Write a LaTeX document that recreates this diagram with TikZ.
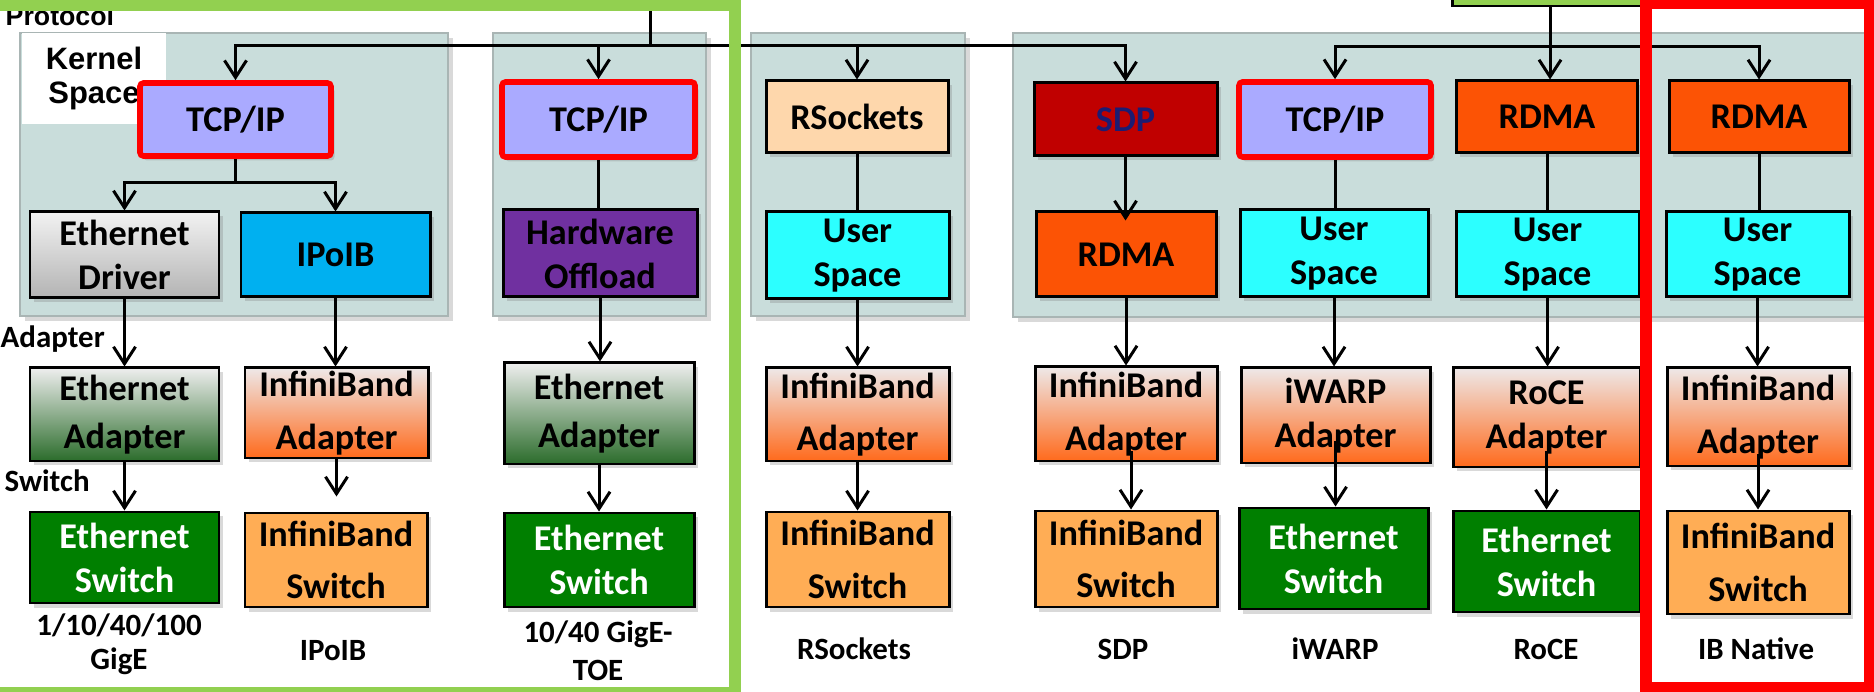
\documentclass[tikz,border=0pt]{standalone}
\usepackage{fontspec}
\setmainfont{Carlito}
\newfontfamily\arialf{Liberation Sans}
\usetikzlibrary{arrows.meta,shadows,calc}
\definecolor{panelc}{HTML}{C9DDDB}
\definecolor{panelb}{HTML}{A9B5B4}
\definecolor{tcpc}{HTML}{AAAAFF}
\definecolor{ipoibc}{HTML}{00B0F0}
\definecolor{hwc}{HTML}{7030A0}
\definecolor{ethsw}{HTML}{007F00}
\definecolor{ibsw}{HTML}{FFAD55}
\definecolor{rsockc}{HTML}{FED7AC}
\definecolor{userc}{HTML}{2CFFFF}
\definecolor{sdpc}{HTML}{C00000}
\definecolor{sdptext}{HTML}{1C1C72}
\definecolor{rdmac}{HTML}{FC5305}
\definecolor{framegreen}{HTML}{92D050}
\definecolor{ethadtop}{HTML}{EEEEEE}
\definecolor{ethadbot}{HTML}{2B6C2B}
\definecolor{ibadtop}{HTML}{EEE8E8}
\definecolor{ibadbot}{HTML}{FF6A1C}
\definecolor{drvtop}{HTML}{F2F2F2}
\definecolor{drvbot}{HTML}{B3B3B3}
\tikzset{
 box/.style={draw=black, line width=0.85pt, inner sep=0pt, align=center,
   font=\bfseries\fontsize{10.3}{12.5}\selectfont,
   drop shadow={shadow xshift=0.035cm, shadow yshift=-0.045cm, opacity=0.3}},
 ibtext/.style={font=\bfseries\fontsize{10.3}{15}\selectfont},
 wh/.style 2 args={minimum width=#1*0.01cm, minimum height=#2*0.01cm},
 redbox/.style={draw=red, line width=1.6pt, rounded corners=1pt},
 ethad/.style={top color=ethadtop, bottom color=ethadbot, font=\bfseries\fontsize{10.3}{13.6}\selectfont},
 ibad/.style={top color=ibadtop, bottom color=ibadbot},
 panel/.style={fill=panelc, draw=panelb, line width=0.7pt,
   drop shadow={shadow xshift=0.05cm, shadow yshift=-0.05cm, opacity=0.3}},
 arr/.style={line width=0.85pt, -{Straight Barb[length=0.17cm, width=0.22cm]}},
 ln/.style={line width=0.85pt},
 lab/.style={font=\bfseries\fontsize{8.8}{10.3}\selectfont, align=center, inner sep=0pt},
}
\begin{document}
\begin{tikzpicture}[x=0.01cm,y=-0.01cm]
\useasboundingbox (0,0) rectangle (1874,692);
\clip (0,0) rectangle (1874,692);
% panels
\draw[panel] (20,33) rectangle (448,316);
\draw[panel] (493,33) rectangle (706,316);
\draw[panel] (751,33) rectangle (965,316);
\draw[panel] (1013,33) rectangle (1866,317);
% labels on the left
\node[font=\arialf\bfseries\fontsize{7.6}{9}\selectfont, anchor=base west, inner sep=0pt] (proto) at (5,26) {Protocol};
\node[fill=white, minimum width=1.44cm, minimum height=0.91cm, inner sep=0pt, align=center,
  font=\arialf\bfseries\fontsize{8.8}{9.6}\selectfont] (kernel) at (94,78.5) {Kernel\\Space};
% column 1 & 2
\node[box, redbox, fill=tcpc, wh={191}{73}] (tcpA) at (235.5,119.5) {TCP/IP};
\node[box, top color=drvtop, bottom color=drvbot, wh={189}{86}] (drv) at (124.5,255) {Ethernet\\Driver};
\node[box, fill=ipoibc, wh={189}{84}] (ipoib) at (335.5,255) {IPoIB};
\node[box, ethad, wh={189}{93}] (eadA) at (124.5,414.5) {Ethernet\\Adapter};
\node[box, fill=ethsw, text=white, wh={189}{91}] (eswA) at (124.5,557.5) {Ethernet\\Switch};
\node[box, ibad, ibtext, wh={183}{90}] (ibadB) at (336.5,413) {InfiniBand\\Adapter};
\node[box, fill=ibsw, ibtext, wh={182}{94}] (ibswB) at (336,560) {InfiniBand\\Switch};
% TOE
\node[box, redbox, fill=tcpc, wh={193}{75}] (tcpC) at (598.5,119.5) {TCP/IP};
\node[box, fill=hwc, wh={194}{87}] (hw) at (600,253.5) {Hardware\\Offload};
\node[box, ethad, wh={190}{101}] (eadC) at (599,413.5) {Ethernet\\Adapter};
\node[box, fill=ethsw, text=white, wh={190}{94}] (eswC) at (599,560) {Ethernet\\Switch};
% RSockets
\node[box, fill=rsockc, wh={182}{72}] (rs) at (857,117) {RSockets};
\node[box, fill=userc, wh={183}{87}] (usD) at (857.5,255.5) {User\\Space};
\node[box, ibad, ibtext, wh={183}{93}] (ibadD) at (857.5,414.5) {InfiniBand\\Adapter};
\node[box, fill=ibsw, ibtext, wh={183}{95}] (ibswD) at (857.5,559.5) {InfiniBand\\Switch};
% SDP
\node[box, fill=sdpc, text=sdptext, wh={183}{73}] (sdp) at (1125.5,119.5) {SDP};
\node[box, fill=rdmac, wh={180}{85}] (rdmaE) at (1126,254.5) {RDMA};
\node[box, ibad, ibtext, wh={182}{94}] (ibadE) at (1126,414) {InfiniBand\\Adapter};
\node[box, fill=ibsw, ibtext, wh={182}{96}] (ibswE) at (1126,559) {InfiniBand\\Switch};
% iWARP
\node[box, redbox, fill=tcpc, wh={192}{75}] (tcpF) at (1335,119.5) {TCP/IP};
\node[box, fill=userc, wh={188}{87}] (usF) at (1334,253.5) {User\\Space};
\node[box, ibad, wh={189}{95}] (iwF) at (1335.5,415.5) {iWARP\\Adapter};
\node[box, fill=ethsw, text=white, wh={189}{101}] (eswF) at (1333.5,558.5) {Ethernet\\Switch};
% RoCE
\node[box, fill=rdmac, wh={181}{72}] (rdmaG) at (1547,117) {RDMA};
\node[box, fill=userc, wh={183}{85}] (usG) at (1547.5,254.5) {User\\Space};
\node[box, ibad, wh={187}{99}] (roG) at (1546.5,417.5) {RoCE\\Adapter};
\node[box, fill=ethsw, text=white, wh={187}{101}] (eswG) at (1546.5,561.5) {Ethernet\\Switch};
% IB native
\node[box, fill=rdmac, wh={180}{72}] (rdmaH) at (1759,117) {RDMA};
\node[box, fill=userc, wh={183}{85}] (usH) at (1757.5,254.5) {User\\Space};
\node[box, ibad, ibtext, wh={182}{98}] (ibadH) at (1758,417) {InfiniBand\\Adapter};
\node[box, fill=ibsw, ibtext, wh={182}{103}] (ibswH) at (1758,562.5) {InfiniBand\\Switch};
% sources
\coordinate (src1) at (650,-5);
\coordinate (busA) at (0,46);
\coordinate (busB) at (0,47);
\coordinate (splitA) at (0,183);
\node[fill=framegreen, draw=black, line width=0.85pt, minimum width=1.94cm, minimum height=0.3cm, inner sep=0pt] (src2) at (1550,-9) {};
% connectors
\foreach \t in {tcpA,tcpC,rs,sdp} \draw[arr] (src1) -- (src1 |- busA) -| (\t.north);
\foreach \t in {tcpF,rdmaH} \draw[arr] (src2.south) -- (src2.south |- busB) -| (\t.north);
\draw[arr] (src2.south) -- (src2.south |- rdmaG.north);
\draw[arr] (tcpA.south) -- (tcpA.south |- splitA) -| (drv.north);
\draw[arr] (tcpA.south) -- (tcpA.south |- splitA) -| (ipoib.north);
\draw[ln] (tcpC.south) -- (tcpC.south |- hw.north);
\draw[ln] (rs.south) -- (rs.south |- usD.north);
\draw[arr] (sdp.south) -- ($(sdp.south |- rdmaE.north)+(0,10)$);
\draw[ln] (tcpF.south) -- (tcpF.south |- usF.north);
\draw[ln] (rdmaG.south) -- (rdmaG.south |- usG.north);
\draw[ln] (rdmaH.south) -- (rdmaH.south |- usH.north);
\draw[arr] (drv.south) -- (drv.south |- eadA.north);
\draw[arr] (ipoib.south) -- (ipoib.south |- ibadB.north);
\draw[arr] (hw.south) -- (hw.south |- eadC.north);
\draw[arr] (usD.south) -- (usD.south |- ibadD.north);
\draw[arr] (rdmaE.south) -- (rdmaE.south |- ibadE.north);
\draw[arr] (usF.south) -- (usF.south |- iwF.north);
\draw[arr] (usG.south) -- (usG.south |- roG.north);
\draw[arr] (usH.south) -- (usH.south |- ibadH.north);
\draw[arr] (eadA.south) -- (eadA.south |- eswA.north);
\draw[arr] (ibadB.south) -- ($(ibadB.south |- ibswB.north)+(0,-15)$);
\draw[arr] (eadC.south) -- (eadC.south |- eswC.north);
\draw[arr] (ibadD.south) -- (ibadD.south |- ibswD.north);
\draw[arr] ($(ibadE.south)+(5,-11)$) -- ($(ibadE.south |- ibswE.north)+(5,0)$);
\draw[arr] ($(iwF.south)+(0,-23)$) -- (iwF.south |- eswF.north);
\draw[arr] ($(roG.south)+(0,-17)$) -- (roG.south |- eswG.north);
\draw[arr] ($(ibadH.south)+(0,-13)$) -- (ibadH.south |- ibswH.north);
% side and bottom labels
\node[lab, anchor=base west] (adl) at (0,348) {Adapter};
\node[lab, anchor=base west] (swl) at (4,492) {Switch};
\node[lab, font=\bfseries\fontsize{8.8}{9.6}\selectfont] (l1) at (119,644) {1/10/40/100\\GigE};
\node[lab] (l2) at (333,651) {IPoIB};
\node[lab, font=\bfseries\fontsize{8.8}{10.8}\selectfont] (l3) at (598,651) {10/40 GigE-\\TOE};
\node[lab] (l4) at (854,649) {RSockets};
\node[lab] (l5) at (1123,649) {SDP};
\node[lab] (l6) at (1335,649) {iWARP};
\node[lab] (l7) at (1546,649) {RoCE};
\node[lab] (l8) at (1756,649) {IB Native};
% frames
\draw[framegreen, line width=0.12cm] (-10,5.5) rectangle (734.5,693);
\draw[red, line width=0.12cm] (1646,3) rectangle (1870,688);
\end{tikzpicture}
\end{document}
